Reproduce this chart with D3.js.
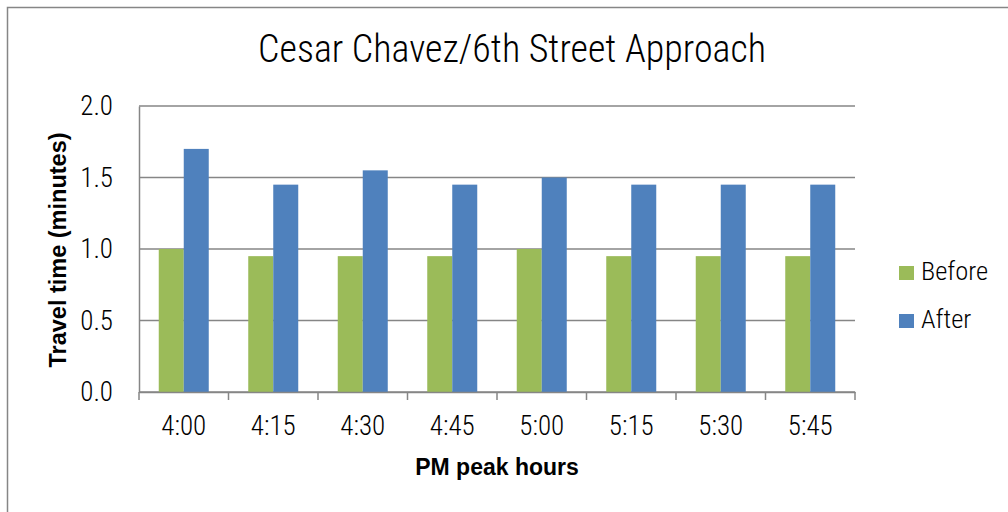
<!DOCTYPE html>
<html>
<head>
<meta charset="utf-8">
<script src="https://cdn.jsdelivr.net/npm/d3@7"></script>
<style>
  body { margin: 0; background: #fff; }
  text { font-family: "Roboto Condensed", "Liberation Sans", sans-serif; font-weight: 300; fill: #000; }
  .bold { font-family: "Liberation Sans", Arial, sans-serif; font-weight: bold; }
</style>
</head>
<body>
<script>
// chart data
var categories = ["4:00", "4:15", "4:30", "4:45", "5:00", "5:15", "5:30", "5:45"];
var seriesNames = ["Before", "After"];
var before = [1.0, 0.95, 0.95, 0.95, 1.0, 0.95, 0.95, 0.95];
var after = [1.7, 1.45, 1.55, 1.45, 1.5, 1.45, 1.45, 1.45];
var yTicks = [0, 0.5, 1.0, 1.5, 2.0];
var colors = ["#9bbb59", "#4f81bd"];

var width = 1008, height = 512;
var plot = {left: 139, right: 855, top: 106, bottom: 392};
var labelFont = "'Roboto Condensed', 'Liberation Sans', sans-serif";

var svg = d3.select("body").append("svg")
    .attr("width", width)
    .attr("height", height);

// outer chart border (only top/left visible in the frame)
svg.append("rect")
    .attr("x", 7.5).attr("y", 7.5)
    .attr("width", 1010).attr("height", 520)
    .attr("fill", "none")
    .attr("stroke", "#868686")
    .attr("stroke-width", 1.5);

var x0 = d3.scaleBand()
    .domain(categories)
    .range([plot.left, plot.right])
    .padding(0);

// two bars per category, Excel style gap on both sides
var x1 = d3.scaleBand()
    .domain(seriesNames)
    .range([0, x0.bandwidth()])
    .paddingInner(0)
    .paddingOuter(0.79);

var y = d3.scaleLinear()
    .domain([0, 2])
    .range([plot.bottom, plot.top]);

// gridlines
svg.append("g")
    .selectAll("line")
    .data(yTicks)
    .enter().append("line")
    .attr("x1", plot.left).attr("x2", plot.right)
    .attr("y1", function(d) { return y(d); })
    .attr("y2", function(d) { return y(d); })
    .attr("stroke", "#868686")
    .attr("stroke-width", 1.5);

// bars
var data = categories.map(function(c, i) { return {cat: c, values: [before[i], after[i]]}; });

var groups = svg.append("g").selectAll("g")
    .data(data)
    .enter().append("g")
    .attr("transform", function(d) { return "translate(" + x0(d.cat) + ",0)"; });

groups.selectAll("rect")
    .data(function(d) { return d.values.map(function(v, j) { return {name: seriesNames[j], value: v, j: j}; }); })
    .enter().append("rect")
    .attr("x", function(d) { return x1(d.name); })
    .attr("width", x1.bandwidth())
    .attr("y", function(d) { return y(d.value); })
    .attr("height", function(d) { return y(0) - y(d.value); })
    .attr("fill", function(d) { return colors[d.j]; });

// y axis
var yAxis = svg.append("g")
    .attr("transform", "translate(" + plot.left + ",0)")
    .call(d3.axisLeft(y).tickValues(yTicks).tickFormat(d3.format(".1f")).tickSize(0).tickPadding(26));
yAxis.select(".domain").attr("stroke", "#868686").attr("stroke-width", 1.5);
yAxis.selectAll("text").style("font-size", "27px").attr("fill", "#000")
    .style("font-family", labelFont);

// x axis
var xAxis = svg.append("g")
    .attr("transform", "translate(0," + plot.bottom + ")")
    .call(d3.axisBottom(x0).tickSize(0).tickPadding(24));
xAxis.select(".domain").attr("stroke", "#868686").attr("stroke-width", 1.5);
xAxis.selectAll("text").style("font-size", "27px").attr("fill", "#000")
    .style("font-family", labelFont);

// category boundary ticks
var bounds = categories.map(function(c) { return x0(c); }).concat([plot.right]);
xAxis.selectAll(".bound")
    .data(bounds)
    .enter().append("line")
    .attr("class", "bound")
    .attr("x1", function(d) { return d; }).attr("x2", function(d) { return d; })
    .attr("y1", 0).attr("y2", 8)
    .attr("stroke", "#868686")
    .attr("stroke-width", 1.5);

// title
svg.append("text")
    .attr("x", 512)
    .attr("y", 62)
    .attr("text-anchor", "middle")
    .style("font-size", "38px")
    .text("Cesar Chavez/6th Street Approach");

// axis titles
svg.append("text")
    .attr("class", "bold")
    .attr("transform", "translate(66,250) rotate(-90)")
    .attr("text-anchor", "middle")
    .style("font-size", "23.5px")
    .text("Travel time (minutes)");

svg.append("text")
    .attr("class", "bold")
    .attr("x", (plot.left + plot.right) / 2)
    .attr("y", 475)
    .attr("text-anchor", "middle")
    .style("font-size", "23px")
    .text("PM peak hours");

// legend
var legend = svg.append("g").selectAll("g")
    .data(seriesNames)
    .enter().append("g")
    .attr("transform", function(d, i) { return "translate(899," + (266 + i * 48) + ")"; });

legend.append("rect")
    .attr("width", 15).attr("height", 14)
    .attr("fill", function(d, i) { return colors[i]; });

legend.append("text")
    .attr("x", 22).attr("y", 14)
    .style("font-size", "26.5px")
    .text(function(d) { return d; });
</script>
</body>
</html>
